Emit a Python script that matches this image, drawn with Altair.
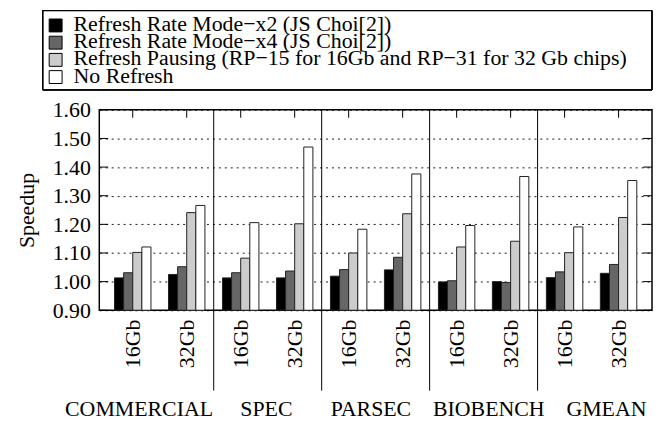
import altair as alt
import pandas as pd

groups = ["COMMERCIAL", "SPEC", "PARSEC", "BIOBENCH", "GMEAN"]
group_gaps = [5, 7, 4, 4]  # spaces between group names in the x-axis title line
chips = ["16Gb", "32Gb"]
series = [
    "Refresh Rate Mode\u2212x2 (JS Choi[2])",
    "Refresh Rate Mode\u2212x4 (JS Choi[2])",
    "Refresh Pausing (RP\u221215 for 16Gb and RP\u221231 for 32 Gb chips)",
    "No Refresh",
]
colors = ["#000000", "#666666", "#cccccc", "#ffffff"]

# values ordered group x chip: COMMERCIAL16, COMMERCIAL32, SPEC16, ...
mode_x2 = [1.013, 1.025, 1.013, 1.013, 1.019, 1.041, 0.999, 1.000, 1.014, 1.029]
mode_x4 = [1.031, 1.052, 1.031, 1.037, 1.042, 1.085, 1.003, 0.997, 1.034, 1.060]
pausing = [1.102, 1.241, 1.082, 1.202, 1.100, 1.237, 1.121, 1.141, 1.101, 1.224]
no_refresh = [1.121, 1.266, 1.206, 1.470, 1.183, 1.376, 1.196, 1.367, 1.191, 1.353]

y_ticks = [0.9, 1.0, 1.1, 1.2, 1.3, 1.4, 1.5, 1.6]

W, H = 557, 202
FONT = "Liberation Serif"

keys = [f"{g}|{c}" for g in groups for c in chips]
rows = []
for s, vals in zip(series, [mode_x2, mode_x4, pausing, no_refresh]):
    for k, v in zip(keys, vals):
        rows.append({"key": k, "group": k.split("|")[0], "chip": k.split("|")[1], "series": s, "value": v})
df = pd.DataFrame(rows)
keydf = pd.DataFrame({"key": keys, "group": [k.split("|")[0] for k in keys], "chip": [k.split("|")[1] for k in keys]})
tickdf = pd.DataFrame({"value": y_ticks})
legdf = pd.DataFrame({"series": series})

group_title = groups[0]
for gap, g in zip(group_gaps, groups[1:]):
    group_title += "\u00a0" * gap + g

color_scale = alt.Scale(domain=series, range=colors)
xscale = alt.Scale(domain=keys, paddingInner=0.325, paddingOuter=0.282)
X = alt.X("key:O", scale=xscale, sort=keys,
          axis=alt.Axis(title=group_title, labelAngle=-90, labelFontSize=22, labelFont=FONT,
                        labelPadding=9, ticks=False, domain=False, labelColor="black",
                        labelExpr="split(datum.label, '|')[1]",
                        titleFont=FONT, titleFontSize=22, titleFontWeight="normal",
                        titleColor="black", titleAnchor="start", titleAlign="left",
                        titleBaseline="alphabetic", titleX=-35, titleY=106))
Y = alt.Y("value:Q", scale=alt.Scale(domain=[0.9, 1.6], zero=False, nice=False),
          axis=alt.Axis(values=y_ticks, format=".2f", title="Speedup", grid=True,
                        gridDash=[2, 4], gridColor="black", gridOpacity=0.9, tickSize=0,
                        labelPadding=9, domain=False, labelFontSize=22, labelFont=FONT,
                        labelColor="black", titleFontSize=22, titleFont=FONT,
                        titleFontWeight="normal", titlePadding=14, titleColor="black"))

bars = alt.Chart(df).mark_bar(stroke="#222222", strokeWidth=1).encode(
    x=X,
    xOffset=alt.XOffset("series:N", sort=series, scale=alt.Scale(domain=series, paddingInner=0, paddingOuter=0)),
    y=Y,
    y2=alt.datum(0.9),
    color=alt.Color("series:N", sort=series, scale=color_scale, legend=None),
)

top_ticks = alt.Chart(keydf).mark_rule(color="black", strokeWidth=1).encode(
    x=X, y=alt.value(0), y2=alt.value(8),
)
left_ticks = alt.Chart(tickdf).mark_rule(color="black", strokeWidth=1).encode(
    y=Y, x=alt.value(0), x2=alt.value(9),
)
right_ticks = alt.Chart(tickdf).mark_rule(color="black", strokeWidth=1).encode(
    y=Y, x=alt.value(W - 9), x2=alt.value(W),
)

sepdf = keydf[(keydf["chip"] == "32Gb") & (keydf["group"] != groups[-1])]
separators = alt.Chart(sepdf).mark_rule(color="black", strokeWidth=1, xOffset=27.2).encode(
    x=X, y=alt.value(0), y2=alt.value(283),
)

plot = alt.layer(bars, top_ticks, left_ticks, right_ticks, separators)

# legend drawn as its own small layer
LY = alt.Y("series:N", sort=series, scale=alt.Scale(domain=series, range=[-85, -33], padding=0), axis=None)
leg_box = alt.Chart(legdf).mark_rect(fill="white", fillOpacity=0, stroke="black", strokeWidth=1).encode(
    x=alt.value(-57), x2=alt.value(W), y=alt.value(-100), y2=alt.value(-20),
)
leg_sym = alt.Chart(legdf).mark_square(size=169, filled=True, opacity=1, stroke="black", strokeWidth=1).encode(
    x=alt.value(-44), y=LY,
    color=alt.Color("series:N", sort=series, scale=color_scale, legend=None),
)
leg_txt = alt.Chart(legdf).mark_text(align="left", baseline="alphabetic", dy=5.5, fontSize=22,
                                     font=FONT, color="black").encode(
    x=alt.value(-26), y=LY, text="series:N",
)
legend = alt.layer(leg_box, leg_sym, leg_txt)

chart = alt.layer(plot, legend).resolve_scale(y="independent").properties(
    width=W, height=H,
    autosize=alt.AutoSizeParams(type="none"),
    padding={"left": 92, "top": 101, "right": 2, "bottom": 110},
).configure(font=FONT).configure_view(stroke="black", strokeWidth=1.5)

chart.save("out.html", embed_options={"renderer": "svg", "actions": False})
